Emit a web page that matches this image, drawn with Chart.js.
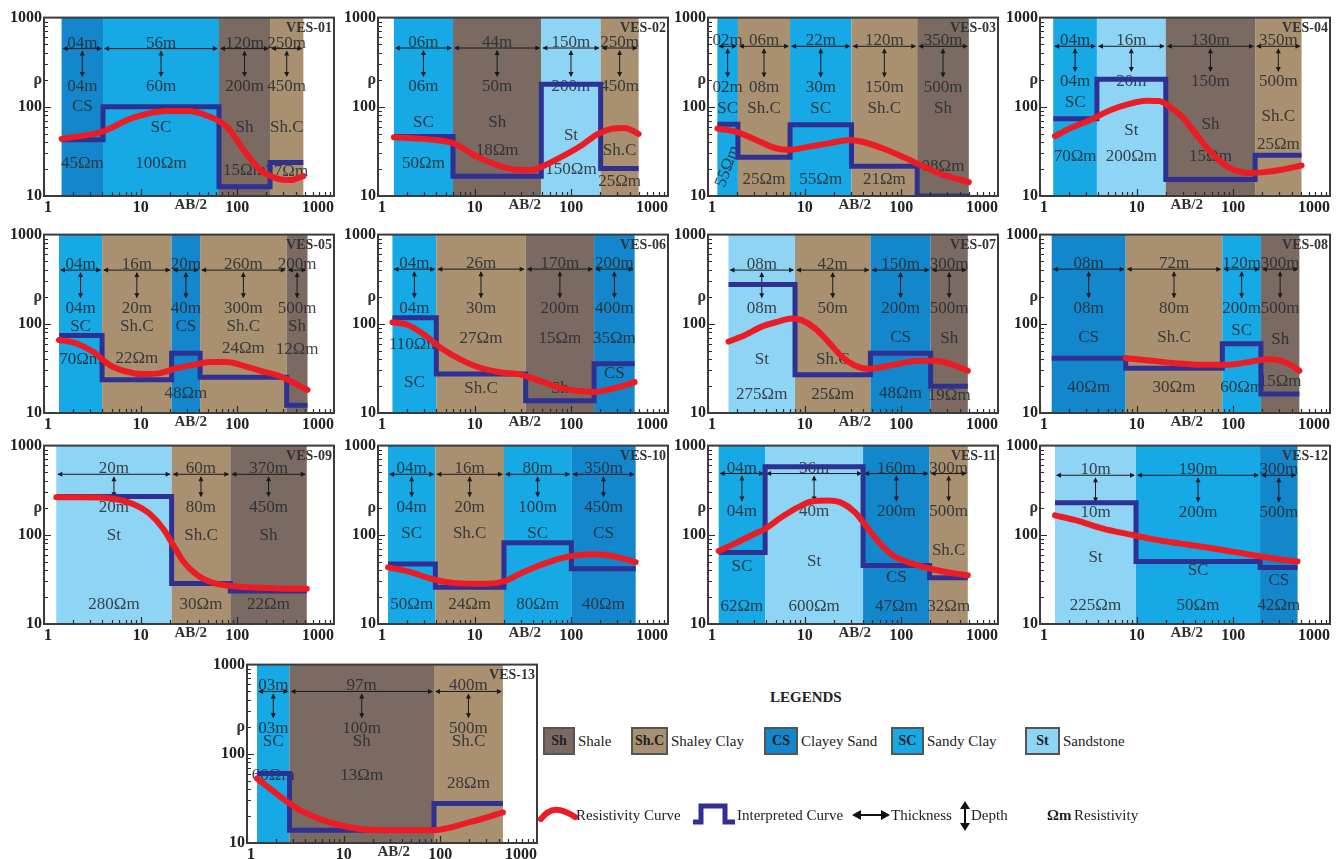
<!DOCTYPE html>
<html>
<head>
<meta charset="utf-8">
<script src="https://cdn.jsdelivr.net/npm/chart.js@4.4.1/dist/chart.umd.min.js"></script>
<style>
  body { margin: 0; background: #fff; width: 1343px; height: 859px; position: relative; overflow: hidden; font-family: "Liberation Serif", serif; color: #222; }
  canvas { position: absolute; }
  .lg { position: absolute; font-size: 15px; white-space: nowrap; line-height: 1; }
  .sw { position: absolute; border: 2px solid #555; box-sizing: border-box; font-weight: bold; font-size: 14px; text-align: center; color: #222; }
</style>
</head>
<body>
<div id="panels"></div>

<div class="lg" style="left:770px; top:690px; font-weight:bold; font-size:15px;">LEGENDS</div>

<div class="sw" style="left:543px; top:727px; width:32px; height:28px; line-height:24px; background:#7a6a62;">Sh</div>
<div class="lg" style="left:578px; top:734px;">Shale</div>
<div class="sw" style="left:631px; top:727px; width:37px; height:28px; line-height:24px; background:#a89070;">Sh.C</div>
<div class="lg" style="left:671px; top:734px;">Shaley Clay</div>
<div class="sw" style="left:764px; top:727px; width:34px; height:28px; line-height:24px; background:#1487cc;">CS</div>
<div class="lg" style="left:801px; top:734px;">Clayey Sand</div>
<div class="sw" style="left:891px; top:727px; width:33px; height:28px; line-height:24px; background:#17a8e6;">SC</div>
<div class="lg" style="left:927px; top:734px;">Sandy Clay</div>
<div class="sw" style="left:1025px; top:727px; width:35px; height:28px; line-height:24px; background:#8ed4f5;">St</div>
<div class="lg" style="left:1063px; top:734px;">Sandstone</div>

<svg style="position:absolute; left:538px; top:803px;" width="40" height="24">
  <path d="M3 16 C 12 4, 22 4, 37 14" stroke="#ed1c24" stroke-width="6" fill="none" stroke-linecap="round"/>
</svg>
<div class="lg" style="left:576px; top:808px;">Resistivity Curve</div>
<svg style="position:absolute; left:691px; top:800px;" width="46" height="28">
  <path d="M2 22 L10 22 L10 6 L34 6 L34 22 L44 22" stroke="#2e3192" stroke-width="5" fill="none"/>
</svg>
<div class="lg" style="left:737px; top:808px;">Interpreted Curve</div>
<svg style="position:absolute; left:852px; top:808px;" width="38" height="14">
  <path d="M3 7 L35 7" stroke="#111" stroke-width="2"/>
  <path d="M0 7 L9 2 L9 12 Z M38 7 L29 2 L29 12 Z" fill="#111"/>
</svg>
<div class="lg" style="left:891px; top:808px;">Thickness</div>
<svg style="position:absolute; left:959px; top:801px;" width="12" height="30">
  <path d="M6 4 L6 26" stroke="#111" stroke-width="2"/>
  <path d="M6 0 L1 8 L11 8 Z M6 30 L1 22 L11 22 Z" fill="#111"/>
</svg>
<div class="lg" style="left:971px; top:808px;">Depth</div>
<div class="lg" style="left:1047px; top:808px; font-weight:bold;">&Omega;m</div>
<div class="lg" style="left:1074px; top:808px;">Resistivity</div>

<script>
"use strict";

// ---- data ----
const panelNames = ["VES-01", "VES-02", "VES-03", "VES-04", "VES-05", "VES-06", "VES-07",
	"VES-08", "VES-09", "VES-10", "VES-11", "VES-12", "VES-13"];

const xTicks = [1, 10, 100, 1000];
const yTicks = [10, 100, 1000];

// AB/2 where each layer starts/ends
const layerBounds = [
	[1.52, 4.08, 64.6, 218, 482],
	[1.46, 5.97, 48.9, 201, 497],
	[1.25, 2.04, 7.06, 30.5, 146, 499],
	[1.37, 3.88, 20, 168, 508],
	[1.43, 3.99, 20.9, 41.2, 324, 532],
	[1.41, 4.01, 33.7, 172, 452],
	[1.63, 7.95, 47.9, 201, 487],
	[1.32, 7.7, 76.9, 193, 482],
	[1.34, 20.9, 84.6, 523],
	[1.27, 3.92, 20.1, 100, 463],
	[1.29, 3.9, 40.2, 196, 487],
	[1.43, 9.84, 189, 462],
	[1.27, 2.75, 86, 444]
];

const layerTypes = [
	["CS", "SC", "Sh", "Sh.C"],
	["SC", "Sh", "St", "Sh.C"],
	["SC", "Sh.C", "SC", "Sh.C", "Sh"],
	["SC", "St", "Sh", "Sh.C"],
	["SC", "Sh.C", "CS", "Sh.C", "Sh"],
	["SC", "Sh.C", "Sh", "CS"],
	["St", "Sh.C", "CS", "Sh"],
	["CS", "Sh.C", "SC", "Sh"],
	["St", "Sh.C", "Sh"],
	["SC", "Sh.C", "SC", "CS"],
	["SC", "St", "CS", "Sh.C"],
	["St", "SC", "CS"],
	["SC", "Sh", "Sh.C"]
];

// interpreted (blue) curve level of each layer
const layerRho = [
	[42.7, 100, 12.7, 23.7],
	[46.4, 16.7, 179, 20.3],
	[63.7, 27.2, 63, 21.5, 10],
	[73.6, 204, 15.3, 28.7],
	[73.8, 23.6, 46.8, 25.2, 12.2],
	[117, 27.3, 13.7, 35.6],
	[276, 26.8, 46.8, 19.9],
	[41.2, 31.8, 59.6, 16.3],
	[268, 28.4, 23.4],
	[47, 25.9, 81.5, 41.7],
	[63.2, 580, 45.4, 32.9],
	[228, 50.2, 43.1],
	[60, 13.9, 27.8]
];

const thicknessLabels = [
	["04m", "56m", "120m", "250m"],
	["06m", "44m", "150m", "250m"],
	["02m", "06m", "22m", "120m", "350m"],
	["04m", "16m", "130m", "350m"],
	["04m", "16m", "20m", "260m", "200m"],
	["04m", "26m", "170m", "200m"],
	["08m", "42m", "150m", "300m"],
	["08m", "72m", "120m", "300m"],
	["20m", "60m", "370m"],
	["04m", "16m", "80m", "350m"],
	["04m", "36m", "160m", "300m"],
	["10m", "190m", "300m"],
	["03m", "97m", "400m"]
];

const depthLabels = [
	["04m", "60m", "200m", "450m"],
	["06m", "50m", "200m", "450m"],
	["02m", "08m", "30m", "150m", "500m"],
	["04m", "20m", "150m", "500m"],
	["04m", "20m", "40m", "300m", "500m"],
	["04m", "30m", "200m", "400m"],
	["08m", "50m", "200m", "500m"],
	["08m", "80m", "200m", "500m"],
	["20m", "80m", "450m"],
	["04m", "20m", "100m", "450m"],
	["04m", "40m", "200m", "500m"],
	["10m", "200m", "500m"],
	["03m", "100m", "500m"]
];

const rhoLabels = [
	["45Ωm", "100Ωm", "15Ωm", "27Ωm"],
	["50Ωm", "18Ωm", "150Ωm", "25Ωm"],
	["55Ωm", "25Ωm", "55Ωm", "21Ωm", "08Ωm"],
	["70Ωm", "200Ωm", "15Ωm", "25Ωm"],
	["70Ωm", "22Ωm", "48Ωm", "24Ωm", "12Ωm"],
	["110Ωm", "27Ωm", "15Ωm", "35Ωm"],
	["275Ωm", "25Ωm", "48Ωm", "19Ωm"],
	["40Ωm", "30Ωm", "60Ωm", "15Ωm"],
	["280Ωm", "30Ωm", "22Ωm"],
	["50Ωm", "24Ωm", "80Ωm", "40Ωm"],
	["62Ωm", "600Ωm", "47Ωm", "32Ωm"],
	["225Ωm", "50Ωm", "42Ωm"],
	["60Ωm", "13Ωm", "28Ωm"]
];

// field (red) resistivity curve
const curveX = [
	[1.52, 3.86, 8.53, 18.9, 30.4, 48.9, 78.8, 117, 174, 259, 356, 482],
	[1.46, 3.86, 6.21, 10, 16.1, 25.9, 38.6, 48.9, 78.8, 127, 189, 259, 356, 497],
	[1.25, 1.96, 3.15, 5.06, 6.95, 11.2, 17.9, 28.9, 39.6, 63.7, 102, 165, 265, 499],
	[1.43, 2.03, 3.26, 5.24, 8.41, 12.5, 17.1, 21.7, 29.7, 40.7, 55.8, 76.5, 105, 144, 197, 316, 508],
	[1.43, 2.14, 3.19, 4.75, 7.09, 10.6, 15.8, 23.5, 35.1, 52.3, 78, 107, 174, 280, 453, 532],
	[1.41, 2.04, 3.04, 4.52, 7.28, 11.7, 18.9, 30.4, 48.9, 78.8, 127, 174, 239, 329, 452],
	[1.63, 2.43, 3.6, 5.35, 7.35, 9.31, 12.8, 17.5, 24.1, 33, 45.3, 67.3, 100, 149, 221, 328, 487],
	[7.7, 14.3, 24.9, 47, 76.9, 104, 155, 230, 316, 401, 482],
	[1.34, 2.51, 4.75, 8.32, 12.4, 17.1, 21.7, 27.6, 38, 56.7, 91.5, 174, 329, 523],
	[1.27, 2.04, 3.29, 4.89, 8.53, 13.7, 20.4, 30.4, 48.9, 78.8, 127, 189, 281, 463],
	[1.29, 1.91, 2.84, 3.9, 5.79, 8.6, 11.8, 17.5, 24.1, 33, 45.3, 62.2, 85.4, 117, 161, 221, 328, 487],
	[1.43, 2.38, 4.48, 8.41, 14.6, 27.4, 47.6, 89.5, 168, 292, 462],
	[1.27, 3.53, 9.16, 23.7, 86, 202, 444]
];
const curveY = [
	[43.7, 51.9, 76, 90, 90, 79.4, 58.9, 32.4, 19.5, 15.7, 15.1, 16.7],
	[45.6, 42.6, 38.5, 28.5, 22.7, 19.8, 19.5, 21.2, 27.4, 36.9, 49.7, 56.5, 58, 49.7],
	[57, 52.5, 42.4, 34.3, 32.9, 35.8, 38.9, 42.4, 40.6, 34.3, 27.7, 21.8, 17.4, 14.3],
	[47, 57, 70.6, 91, 108, 117, 116, 101, 76.9, 50.2, 32.9, 23.4, 19.4, 18.1, 18.4, 19.7, 22],
	[65.9, 60.5, 48.9, 34.7, 29.2, 27.3, 28, 31.8, 34.7, 37.2, 37.2, 34.7, 29.7, 25.7, 19.9, 18.2],
	[104, 97, 75, 53.2, 39.4, 31.8, 28.5, 26.8, 22.6, 19, 17.5, 17.2, 18.2, 19.9, 22.2],
	[63.2, 75, 93, 106, 115, 110, 89, 63.2, 43, 34.1, 31.3, 33.2, 36.2, 38.5, 38.5, 35.2, 29.7],
	[41.2, 38.5, 36.2, 34.7, 34.7, 35.2, 37.8, 40.1, 38.5, 34.1, 29.7],
	[264, 264, 257, 222, 172, 117, 76.9, 50.2, 35.8, 28.9, 26.5, 25.5, 24.8, 24.8],
	[43.1, 38.9, 32.9, 29.7, 28.2, 28.2, 30.2, 37.3, 46.1, 54.7, 59.6, 60.5, 57, 49.4],
	[65.9, 80.2, 99, 117, 158, 204, 236, 242, 228, 180, 117, 76.9, 57, 49.4, 44.2, 40.6, 37.3, 35.2],
	[165, 145, 117, 101, 89.5, 80.2, 73.6, 65.9, 58.6, 53.3, 50.2],
	[52.8, 23.3, 15.8, 13.9, 13.9, 17.1, 22]
];

// ---- layout (where things sit, in axis units / pixels) ----
const panelLeft = [44, 378, 708, 1040, 44, 378, 708, 1040, 44, 378, 708, 1040, 247];
const panelTop = [16, 16, 16, 16, 233, 233, 233, 233, 444, 444, 444, 444, 663];
const arrowRow = [449, 456, 477, 477, 400, 410, 400, 410, 477, 477, 486, 465, 500];
const depthRow = [167, 167, 165, 190, 149, 149, 149, 149, 204, 204, 183, 178, 194];
const typeRow = [
	[100, 59, 59, 59],
	[67, 67, 48, 32],
	[95, 95, 95, 95, 95],
	[112, 54, 63, 77],
	[93, 93, 93, 93, 93],
	[22, 19, 19, 28],
	[40, 40, 70, 68],
	[70, 70, 84, 66],
	[99, 99, 99],
	[104, 104, 104, 104],
	[44, 50, 33.5, 66],
	[55, 40, 30.5],
	[136, 136, 136]
];
const rhoRow = [
	[23, 23, 19.5, 18.6],
	[23, 32, 20, 14.4],
	[21.5, 15.3, 15.3, 15.3, 21.5],
	[28, 28, 28, 38],
	[40, 41, 16.7, 53, 52],
	[58, 69, 69, 69],
	[16, 16, 16.5, 15.7],
	[19.4, 19.4, 19.4, 22.5],
	[16.7, 16.7, 16.7],
	[16.7, 16.7, 16.7, 16.7],
	[15.6, 15.6, 15.6, 15.6],
	[16, 16, 16],
	[57, 57, 46]
];
const tiltedLabel = { panel: 2, layer: 0, angle: -70 };

const layerColors = { "Sh": "#7a6a62", "Sh.C": "#a89070", "CS": "#1487cc", "SC": "#17a8e6", "St": "#8ed4f5" };
const textColor = "rgba(40,44,48,0.88)";
const serif = '"Liberation Serif", "Times New Roman", serif';

const AXIS_W = 43, PAD_TOP = 10, PAD_RIGHT = 22, PAD_BOTTOM = 10, AXIS_H = 20, PLOT_W = 290, PLOT_H = 180;


function arrowHead(ctx, x, y, dx, dy) {
	const s = 5, w = 2.5;
	ctx.beginPath();
	ctx.moveTo(x, y);
	ctx.lineTo(x - dx * s - dy * w, y - dy * s + dx * w);
	ctx.lineTo(x - dx * s + dy * w, y - dy * s - dx * w);
	ctx.closePath();
	ctx.fill();
}


const layerPlugin = {
	id: "layers",
	beforeDatasetsDraw(chart, args, opts) {
		const p = opts.index;
		const { ctx, chartArea: a, scales: { x, y } } = chart;
		const b = layerBounds[p];
		ctx.save();
		for (let i = 0; i < b.length - 1; i++) {
			const x0 = x.getPixelForValue(b[i]);
			const x1 = x.getPixelForValue(b[i + 1]);
			ctx.fillStyle = layerColors[layerTypes[p][i]];
			ctx.fillRect(x0, a.top, x1 - x0, a.bottom - a.top);
		}

		const ay = y.getPixelForValue(arrowRow[p]);
		const dy = y.getPixelForValue(depthRow[p]);
		for (let i = 0; i < b.length - 1; i++) {
			const x0 = x.getPixelForValue(b[i]);
			const x1 = x.getPixelForValue(b[i + 1]);
			const cx = (x0 + x1) / 2;

			ctx.strokeStyle = "#1a1a1a";
			ctx.fillStyle = "#1a1a1a";
			ctx.lineWidth = 1;
			ctx.beginPath();
			ctx.moveTo(x0 + 2, ay);
			ctx.lineTo(x1 - 2, ay);
			ctx.moveTo(cx, ay + 3);
			ctx.lineTo(cx, dy - 11);
			ctx.stroke();
			arrowHead(ctx, x0 + 1, ay, -1, 0);
			arrowHead(ctx, x1 - 1, ay, 1, 0);
			arrowHead(ctx, cx, ay + 2, 0, -1);
			arrowHead(ctx, cx, dy - 10, 0, 1);

			ctx.fillStyle = textColor;
			ctx.font = "17px " + serif;
			ctx.textAlign = "center";
			ctx.textBaseline = "alphabetic";
			ctx.fillText(thicknessLabels[p][i], cx, ay - 1);
			ctx.textBaseline = "middle";
			ctx.fillText(depthLabels[p][i], cx, dy);
			ctx.fillText(layerTypes[p][i], cx, y.getPixelForValue(typeRow[p][i]));
			const ry = y.getPixelForValue(rhoRow[p][i]);
			if (tiltedLabel.panel === p && tiltedLabel.layer === i) {
				ctx.save();
				ctx.translate(cx, ry);
				ctx.rotate(tiltedLabel.angle * Math.PI / 180);
				ctx.fillText(rhoLabels[p][i], 0, 0);
				ctx.restore();
			} else {
				ctx.fillText(rhoLabels[p][i], cx, ry);
			}
		}
		ctx.restore();
	},
	afterDraw(chart, args, opts) {
		const p = opts.index;
		const { ctx, chartArea: a, scales: { x, y } } = chart;
		ctx.save();
		// inward tick marks
		ctx.strokeStyle = "#2a2a2a";
		ctx.lineWidth = 1.2;
		ctx.beginPath();
		for (let d = 10; d < 1000; d *= 10) {
			for (let m = 1; m <= 9; m++) {
				const py = Math.round(y.getPixelForValue(d * m)) + 0.5;
				const len = m === 1 ? 7 : 4;
				ctx.moveTo(a.left, py);
				ctx.lineTo(a.left + len, py);
			}
		}
		for (let d = 1; d < 1000; d *= 10) {
			for (let m = 1; m <= 9; m++) {
				const px = Math.round(x.getPixelForValue(d * m)) + 0.5;
				const len = m === 1 ? 7 : 4;
				ctx.moveTo(px, a.bottom);
				ctx.lineTo(px, a.bottom - len);
			}
		}
		ctx.stroke();

		// frame
		ctx.strokeStyle = "#3b3b3b";
		ctx.lineWidth = 2;
		ctx.strokeRect(a.left, a.top, a.right - a.left, a.bottom - a.top);

		// panel name and axis names
		ctx.fillStyle = "#333";
		ctx.font = "bold 14px " + serif;
		ctx.textAlign = "right";
		ctx.textBaseline = "top";
		ctx.fillText(panelNames[p], a.right - 2, a.top + 4);

		ctx.font = "bold 16px " + serif;
		ctx.textBaseline = "middle";
		ctx.fillText("ρ", a.left - 2, y.getPixelForValue(200));

		ctx.font = "bold 15px " + serif;
		ctx.textAlign = "center";
		ctx.textBaseline = "top";
		ctx.fillText("AB/2", x.getPixelForValue(33), a.bottom + 2);
		ctx.restore();
	}
};


function stepPoints(p) {
	const b = layerBounds[p];
	const r = layerRho[p];
	const pts = r.map((v, i) => ({ x: b[i], y: v }));
	pts.push({ x: b[b.length - 1], y: r[r.length - 1] });
	return pts;
}


function drawPanel(p) {
	const canvas = document.createElement("canvas");
	canvas.width = AXIS_W + PLOT_W + PAD_RIGHT;
	canvas.height = PAD_TOP + PLOT_H + AXIS_H + PAD_BOTTOM;
	canvas.style.left = (panelLeft[p] - AXIS_W) + "px";
	canvas.style.top = (panelTop[p] - PAD_TOP) + "px";
	document.querySelector("#panels").appendChild(canvas);

	new Chart(canvas.getContext("2d"), {
		type: "line",
		data: {
			datasets: [{
				label: "Resistivity Curve",
				data: curveX[p].map((v, i) => ({ x: v, y: curveY[p][i] })),
				borderColor: "#ed1c24",
				borderWidth: 6,
				borderCapStyle: "round",
				cubicInterpolationMode: "monotone",
				pointRadius: 0
			}, {
				label: "Interpreted Curve",
				data: stepPoints(p),
				borderColor: "#2e3192",
				borderWidth: 5,
				stepped: true,
				pointRadius: 0
			}]
		},
		options: {
			responsive: false,
			animation: false,
			events: [],
			layout: { padding: { top: PAD_TOP, right: PAD_RIGHT, left: 0, bottom: PAD_BOTTOM } },
			plugins: {
				legend: { display: false },
				tooltip: { enabled: false },
				layers: { index: p }
			},
			scales: {
				x: {
					type: "logarithmic",
					min: 1,
					max: 1000,
					grid: { display: false, drawTicks: false, tickLength: 0 },
					border: { display: false },
					afterBuildTicks: (s) => { s.ticks = xTicks.map(v => ({ value: v })); },
					afterFit: (s) => { s.height = AXIS_H; },
					ticks: {
						autoSkip: false,
						maxRotation: 0,
						align: "inner",
						padding: 2,
						color: "#222",
						font: { family: serif, size: 16, weight: "bold" },
						callback: (v) => String(v)
					}
				},
				y: {
					type: "logarithmic",
					min: 10,
					max: 1000,
					grid: { display: false, drawTicks: false, tickLength: 0 },
					border: { display: false },
					afterBuildTicks: (s) => { s.ticks = yTicks.map(v => ({ value: v })); },
					afterFit: (s) => { s.width = AXIS_W; },
					ticks: {
						autoSkip: false,
						padding: 2,
						color: "#222",
						font: { family: serif, size: 16, weight: "bold" },
						callback: (v) => String(v)
					}
				}
			}
		},
		plugins: [layerPlugin]
	});
}

for (let p = 0; p < panelNames.length; p++) {
	drawPanel(p);
}
</script>
</body>
</html>
